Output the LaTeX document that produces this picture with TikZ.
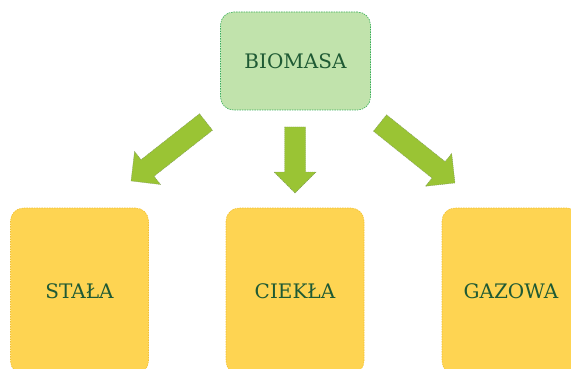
\documentclass[tikz,border=0pt]{standalone}
\usepackage{fontspec}
\setmainfont{DejaVu Serif}
\usetikzlibrary{calc}

\definecolor{biofill}{HTML}{C1E3AC}
\definecolor{bioline}{HTML}{3BAF5A}
\definecolor{formfill}{HTML}{FED452}
\definecolor{formline}{HTML}{F2C030}
\definecolor{arrowfill}{HTML}{9AC434}
\definecolor{arrowline}{HTML}{7F9A55}
\definecolor{labelgreen}{HTML}{1F5A34}

% fat arrow from #1 to #2
\newcommand{\fatarrow}[2]{%
  \filldraw[fat] let \p1=($(#2)-(#1)$), \n1={atan2(\y1,\x1)}, \n2={veclen(\x1,\y1)} in
    [shift={(#1)}, rotate=\n1]
    (0pt,-10.5pt) -- ({\n2-21pt},-10.5pt) -- ({\n2-21pt},-21pt) -- (\n2,0pt)
    -- ({\n2-21pt},21pt) -- ({\n2-21pt},10.5pt) -- (0pt,10.5pt) -- cycle;}

\begin{document}
\begin{tikzpicture}[x=1pt, y=-1pt,
    box/.style={rounded corners=13pt, dash pattern=on 1.5pt off 1pt, line width=0.6pt,
      text=labelgreen, font=\fontsize{20}{24}\selectfont, inner sep=0pt},
    bio/.style={box, draw=bioline, fill=biofill, minimum width=150pt, minimum height=98pt},
    form/.style={box, draw=formline, fill=formfill, minimum width=138pt, minimum height=166pt},
    fat/.style={fill=arrowfill, draw=arrowline, line width=0.4pt, dash pattern=on 1.2pt off 0.8pt}]
  \useasboundingbox (0,0) rectangle (571,369);
  \clip (0,0) rectangle (571,369);

  \node[bio] (biomasa) at (295.5,61) {BIOMASA};

  \node[form] (stala) at (79.5,291) {STAŁA};
  \node[form] (ciekla) at (295,291) {CIEKŁA};
  \node[form] (gazowa) at (511,291) {GAZOWA};

  \coordinate (l-tail) at (206,122);
  \coordinate (l-tip) at (131,181);
  \coordinate (c-tail) at (295,127);
  \coordinate (c-tip) at (295,193);
  \coordinate (r-tail) at (380,123);
  \coordinate (r-tip) at (455,183);

  \fatarrow{l-tail}{l-tip}
  \fatarrow{c-tail}{c-tip}
  \fatarrow{r-tail}{r-tip}
\end{tikzpicture}
\end{document}
